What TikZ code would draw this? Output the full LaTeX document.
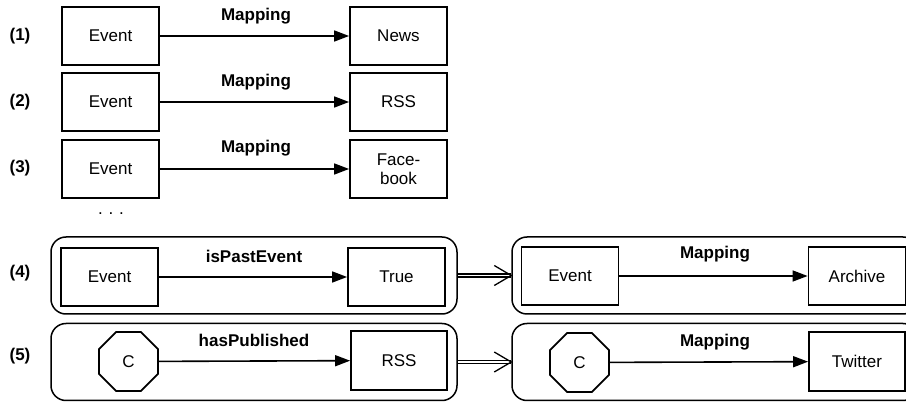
\documentclass[tikz,border=0pt]{standalone}
\usepackage{fontspec}
\setmainfont{Liberation Sans}
\usetikzlibrary{arrows.meta,shapes.geometric}
\begin{document}
\begin{tikzpicture}[x=1pt,y=-1pt,
  every node/.style={font=\fontsize{17}{19.5}\selectfont},
  box/.style={draw, line width=1.8pt, minimum width=97pt, minimum height=58pt, inner sep=0pt, align=center},
  oct/.style={draw, line width=1.8pt, regular polygon, regular polygon sides=8, minimum size=64pt, inner sep=0pt},
  group/.style={draw, line width=1.5pt, rounded corners=15pt, minimum width=406pt, minimum height=77pt, inner sep=0pt},
  lbl/.style={font=\fontsize{17}{19.5}\selectfont\bfseries},
  conn/.style={line width=1.6pt, -{Triangle[length=15pt,width=11pt]}},
  dbl/.style={line width=1.3pt}
]
\clip (0,0) rectangle (906,403);
\useasboundingbox (0,0) rectangle (906,403);

% row labels
\node[lbl] (l1) at (20,36) {(1)};
\node[lbl] (l2) at (20,102) {(2)};
\node[lbl] (l3) at (20,168) {(3)};
\node[lbl] (l4) at (20,273) {(4)};
\node[lbl] (l5) at (20,356) {(5)};

% row 1
\node[box] (e1) at (110.5,36) {Event};
\node[box] (n1) at (398.5,36) {News};
\draw[conn] (e1) -- (n1);
\node[lbl] (m1) at (256,16) {Mapping};

% row 2
\node[box] (e2) at (110.5,102) {Event};
\node[box] (n2) at (398.5,102) {RSS};
\draw[conn] (e2) -- (n2);
\node[lbl] (m2) at (256,82) {Mapping};

% row 3
\node[box] (e3) at (110.5,169) {Event};
\node[box] (n3) at (398.5,169) {Face-\\book};
\draw[conn] (e3) -- (n3);
\node[lbl] (m3) at (256,148) {Mapping};

\node (dots) at (111,214) {.\,\,.\,\,.};

% row 4 left
\node[group] (g4) at (254,275.5) {};
\node[box] (e4) at (109.5,277) {Event};
\node[box] (t4) at (396.5,277) {True};
\draw[conn] (e4) -- (t4);
\node[lbl] (p4) at (254,256) {isPastEvent};

% row 4 right
\node[group] (g4r) at (715,275.5) {};
\node[box] (e4r) at (570,276) {Event};
\node[box] (a4r) at (857,276) {Archive};
\draw[conn] (e4r) -- (a4r);
\node[lbl] (m4r) at (715,254) {Mapping};

% row 5 left
\node[group] (g5) at (254,362) {};
\node[oct] (c5) at (128.5,361.5) {C};
\node[box, minimum width=96pt, minimum height=59pt] (r5) at (399,360.5) {RSS};
\draw[conn] (c5) -- (r5);
\node[lbl] (h5) at (254,340) {hasPublished};

% row 5 right
\node[group] (g5r) at (715,362) {};
\node[oct] (c5r) at (579.5,362.5) {C};
\node[box, minimum width=96pt, minimum height=59pt] (w5r) at (857,361.5) {Twitter};
\draw[conn] (c5r) -- (w5r);
\node[lbl] (m5r) at (715,342) {Mapping};

% implication arrows
\draw[dbl] ([yshift=-1.6pt]g4.east) -- ([yshift=-1.6pt]g4r.west);
\draw[dbl] ([yshift=1.6pt]g4.east) -- ([yshift=1.6pt]g4r.west);
\draw[dbl] ([shift={(-17pt,-10pt)}]g4r.west) -- (g4r.west) -- ([shift={(-17pt,10pt)}]g4r.west);

\draw[dbl] ([yshift=-1.6pt]g5.east) -- ([yshift=-1.6pt]g5r.west);
\draw[dbl] ([yshift=1.6pt]g5.east) -- ([yshift=1.6pt]g5r.west);
\draw[dbl] ([shift={(-17pt,-10pt)}]g5r.west) -- (g5r.west) -- ([shift={(-17pt,10pt)}]g5r.west);
\end{tikzpicture}
\end{document}
